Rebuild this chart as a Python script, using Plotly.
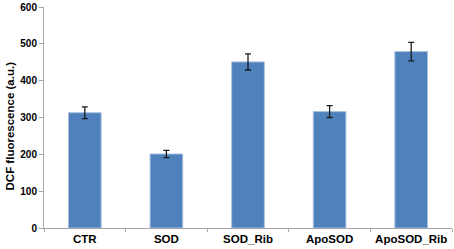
import plotly.graph_objects as go

categories = ["CTR", "SOD", "SOD_Rib", "ApoSOD", "ApoSOD_Rib"]
values = [313, 201, 451, 316, 479]
errors = [16, 10, 22, 16, 25]
y_ticks = [0, 100, 200, 300, 400, 500, 600]

FONT = "Liberation Sans, Arial, sans-serif"

fig = go.Figure(go.Bar(
    x=categories, y=values,
    marker=dict(color="#4F81BD", line=dict(color="#A7C0DE", width=1)),
    width=0.4,
    error_y=dict(type="data", array=errors, color="#1a1a1a", thickness=1.3, width=3),
))

fig.update_layout(
    width=454, height=249,
    margin=dict(l=44, r=2, t=7, b=21),
    paper_bgcolor="white", plot_bgcolor="white",
    font=dict(family=FONT, size=10, color="black"),
    showlegend=False,
    annotations=[dict(
        text="DCF fluorescence (a.u.)", textangle=-90,
        xref="paper", yref="paper", x=-0.083, y=0.46,
        xanchor="center", yanchor="middle", showarrow=False,
        font=dict(family=FONT, size=11.5, color="black", weight="bold"),
    )],
)
fig.update_xaxes(
    showline=True, linecolor="#A6A6A6", linewidth=1,
    ticks="outside", tickson="boundaries", ticklen=3, tickcolor="#A6A6A6",
    tickfont=dict(family=FONT, size=11.5, color="black", weight="bold"),
    showgrid=False,
)
fig.update_yaxes(
    range=[0, 600], tickvals=y_ticks,
    showline=True, linecolor="#A6A6A6", linewidth=1,
    ticks="outside", ticklen=4, tickcolor="#A6A6A6",
    tickfont=dict(family=FONT, size=10, color="black", weight="bold"),
    showgrid=False, zeroline=False,
)

fig.write_html("out.html", config={"displayModeBar": False},
               post_script="document.body.style.margin='0';")
